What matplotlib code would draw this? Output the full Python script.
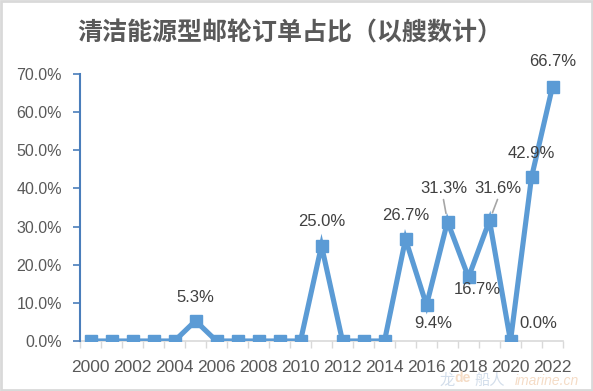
import matplotlib
matplotlib.use("Agg")
import matplotlib.pyplot as plt
import numpy as np
from matplotlib.patches import Rectangle

years = list(range(2000, 2023))
share = [0.0, 0.0, 0.0, 0.0, 0.0, 5.3, 0.0, 0.0, 0.0, 0.0, 0.0, 25.0,
         0.0, 0.0, 0.0, 26.7, 9.4, 31.3, 16.7, 31.6, 0.0, 42.9, 66.7]
# which points get a label, and where (pixel offsets from the marker)
label_years = [2005, 2011, 2015, 2016, 2017, 2018, 2019, 2020, 2021, 2022]
label_offsets = {2005: (0, 23), 2011: (0, 24), 2015: (0, 24), 2016: (7, -18),
                 2017: (-4, 33), 2018: (9, -12), 2019: (8, 32), 2020: (28, 17),
                 2021: (0, 24), 2022: (0, 25)}
leader_years = [2017, 2019]

title = "清洁能源型邮轮订单占比（以艘数计）"
line_col = "#5B9BD5"
txt_col = "#595959"

plt.rcParams['font.family'] = ['Liberation Sans', 'DejaVu Sans']

fig = plt.figure(figsize=(5.93, 3.91), dpi=100)
ax = fig.add_axes([80/593, 50/391, 483/593, 267/391])

x = np.array(years)
y = np.array(share) / 100
ax.plot(x, y, color=line_col, lw=3.7, marker='s', ms=8, mfc=line_col, mec=line_col,
        solid_joinstyle='miter', zorder=3)

ax.set_xlim(1999.5, 2022.5)
ax.set_ylim(0, 0.7)
ax.set_yticks(np.arange(0, 0.71, 0.1))
ax.set_yticklabels(["%.1f%%" % (v * 100) for v in np.arange(0, 0.71, 0.1)])
ax.set_xticks(np.arange(1999.5, 2023, 1))
ax.set_xticklabels([])
ax.set_xticks(years[::2], minor=True)
ax.set_xticklabels([str(v) for v in years[::2]], minor=True)

ax.tick_params(axis='y', colors="#4A7EBB", labelcolor=txt_col, labelsize=11.5,
               length=5, width=1.2, pad=8)
ax.tick_params(axis='x', which='major', colors="#D9D9D9", length=5, width=1)
ax.tick_params(axis='x', which='minor', length=0, labelcolor=txt_col,
               labelsize=12.5, pad=14)

for s in ['top', 'right']:
    ax.spines[s].set_visible(False)
ax.spines['left'].set_color("#4A7EBB")
ax.spines['left'].set_linewidth(1.5)
ax.spines['bottom'].set_color("#D9D9D9")
ax.spines['bottom'].set_linewidth(1.2)
ax.spines['bottom'].set_zorder(1)

for yr in label_years:
    v = share[years.index(yr)]
    dx, dy = label_offsets[yr]
    ax.annotate("%.1f%%" % v, (yr, v / 100), xytext=(dx, dy),
                textcoords='offset pixels', ha='center', va='center',
                fontsize=12, color="#404040", zorder=4)
    if yr in leader_years:
        # short grey leader line from label down to the marker
        ax.annotate("", (yr, v / 100), xytext=(dx, dy - 11),
                    textcoords='offset pixels',
                    arrowprops=dict(arrowstyle='-', color='#A6A6A6', lw=1.2,
                                    shrinkA=0, shrinkB=6), zorder=4)

fig.text(290/593, 1 - 33/391, title, ha='center', va='center', fontsize=18,
         fontweight='bold', color=txt_col, family=['Noto Sans CJK SC', 'DejaVu Sans'])

# faint watermark
fig.text(440/593, 1 - 380/391, "龙", fontsize=11, color="#D3DEEB",
         family=['Noto Sans CJK SC'], ha='left', va='center')
fig.text(454/593, 1 - 378/391, "de", fontsize=10, color="#F5DCC6",
         fontweight='bold', ha='left', va='center')
fig.text(474/593, 1 - 380/391, "船人", fontsize=11, color="#D3DEEB",
         family=['Noto Sans CJK SC'], ha='left', va='center')
fig.text(515/593, 1 - 381/391, "imarine.cn", fontsize=10, color="#F5DCC6",
         style='italic', ha='left', va='center')

fig.patches.append(Rectangle((0.002, 0.003), 0.996, 0.994, transform=fig.transFigure,
                             fill=False, ec="#D9D9D9", lw=2))

fig.savefig("out.png", dpi=100)
